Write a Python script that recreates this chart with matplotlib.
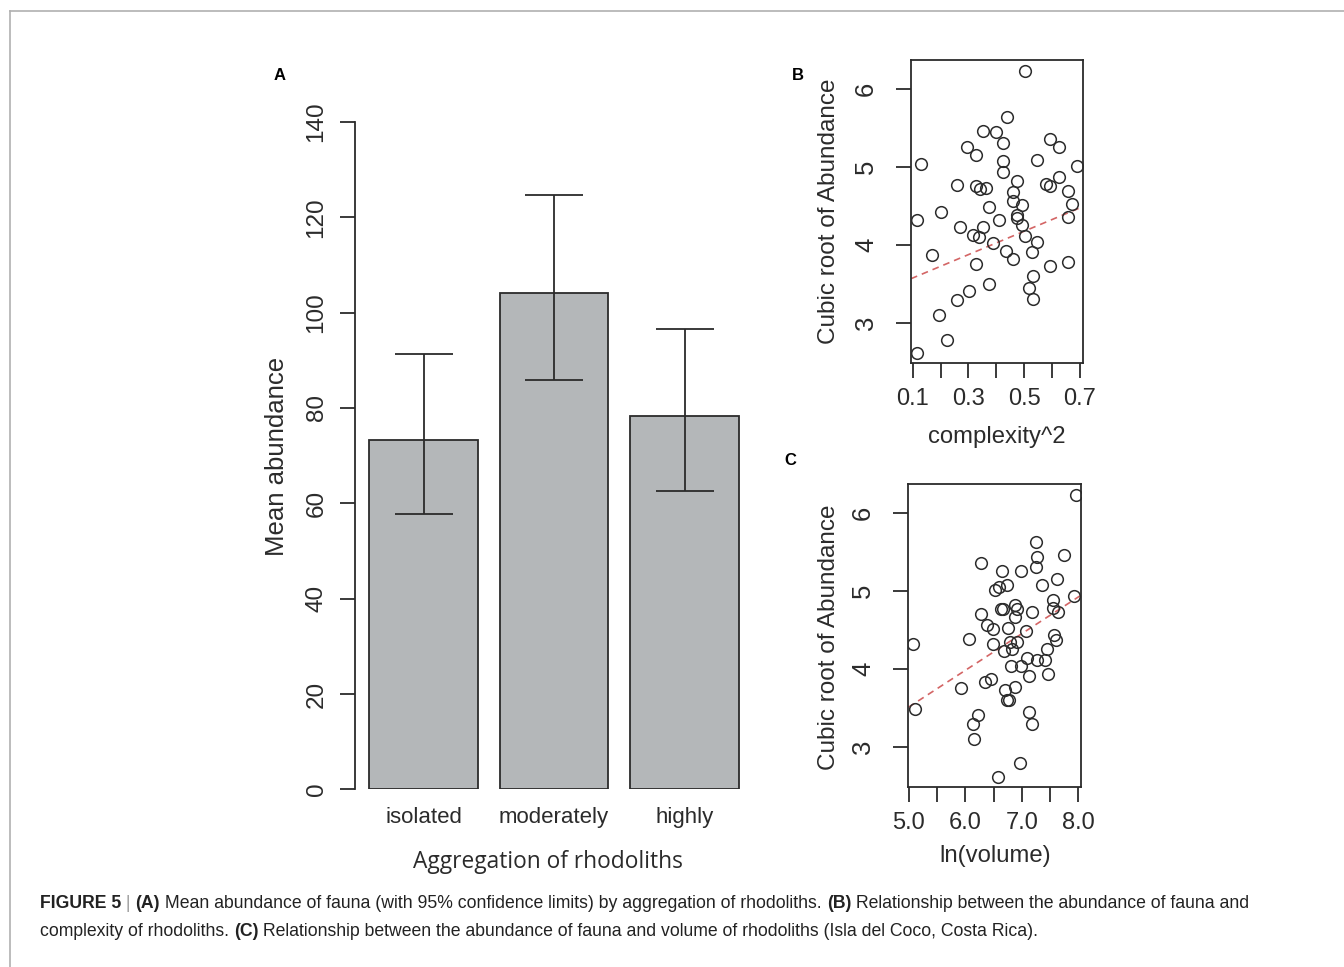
import numpy as np
import matplotlib
matplotlib.use("Agg")
import matplotlib.pyplot as plt
from matplotlib.lines import Line2D

plt.rcParams['font.family'] = ['Liberation Sans', 'DejaVu Sans']

W, H = 1344, 967

# panel A: mean abundance with 95% CI
groups = ["isolated", "moderately", "highly"]
mean_abund = [73.3, 104.2, 78.3]
ci_low = [57.8, 85.9, 62.6]
ci_high = [91.3, 124.6, 96.6]

# panel B: complexity^2 vs cubic root of abundance
complexity2 = [0.503, 0.437, 0.351, 0.399, 0.423, 0.294, 0.327, 0.592, 0.625, 0.130,
               0.423, 0.545, 0.423, 0.690, 0.260, 0.327, 0.341, 0.363, 0.473, 0.578,
               0.594, 0.625, 0.656, 0.461, 0.461, 0.491, 0.373, 0.672, 0.656, 0.202,
               0.117, 0.473, 0.473, 0.491, 0.410, 0.270, 0.351, 0.315, 0.339, 0.503,
               0.387, 0.545, 0.434, 0.461, 0.529, 0.168, 0.327, 0.592, 0.656, 0.373,
               0.530, 0.303, 0.260, 0.518, 0.530, 0.194, 0.222, 0.117]
abund_b = [6.24, 5.64, 5.47, 5.45, 5.31, 5.26, 5.16, 5.36, 5.26, 5.04,
           5.08, 5.09, 4.94, 5.02, 4.77, 4.76, 4.72, 4.73, 4.82, 4.78,
           4.76, 4.87, 4.70, 4.68, 4.57, 4.52, 4.49, 4.53, 4.36, 4.43,
           4.32, 4.39, 4.35, 4.26, 4.32, 4.24, 4.23, 4.13, 4.11, 4.12,
           4.03, 4.04, 3.93, 3.82, 3.91, 3.87, 3.76, 3.74, 3.78, 3.50,
           3.61, 3.41, 3.30, 3.45, 3.31, 3.11, 2.79, 2.62]
fit_b = [3.43, 1.50]  # intercept, slope

# panel C: ln(volume) vs cubic root of abundance
ln_volume = [7.96, 7.25, 7.27, 7.75, 6.28, 6.64, 6.98, 7.25, 7.62, 6.53,
             6.59, 6.74, 7.36, 7.93, 7.55, 7.55, 7.64, 6.63, 6.66, 6.87,
             6.91, 6.87, 7.17, 6.27, 6.39, 6.49, 6.76, 7.07, 5.08, 6.06,
             6.49, 6.79, 6.92, 7.57, 7.60, 7.45, 6.69, 6.83, 7.09, 7.26,
             7.41, 6.80, 6.98, 7.47, 7.13, 5.93, 6.34, 6.46, 6.70, 6.87,
             6.73, 6.78, 5.11, 6.22, 6.14, 7.13, 7.17, 6.16, 6.97, 6.57]
abund_c = [6.24, 5.63, 5.44, 5.47, 5.36, 5.26, 5.26, 5.31, 5.15, 5.02,
           5.05, 5.08, 5.08, 4.94, 4.88, 4.78, 4.73, 4.77, 4.77, 4.82,
           4.77, 4.67, 4.73, 4.70, 4.56, 4.51, 4.53, 4.49, 4.32, 4.39,
           4.32, 4.34, 4.35, 4.44, 4.37, 4.25, 4.23, 4.26, 4.14, 4.11,
           4.11, 4.04, 4.04, 3.93, 3.91, 3.75, 3.83, 3.87, 3.73, 3.77,
           3.60, 3.60, 3.49, 3.41, 3.29, 3.44, 3.29, 3.10, 2.79, 2.61]
fit_c = [1.15, 0.472]

ink = '#2b2b2b'


def box(left, top, right, bottom):
    return [left / W, 1 - bottom / H, (right - left) / W, (bottom - top) / H]


fig = plt.figure(figsize=(W / 100, H / 100), dpi=100)

# outer frame (top and left only)
fig.add_artist(Line2D([9.5 / W, 9.5 / W], [0, 1 - 10.5 / H], color='#b0b0b0', lw=1.2))
fig.add_artist(Line2D([9.5 / W, 1], [1 - 10.5 / H, 1 - 10.5 / H], color='#b0b0b0', lw=1.2))

# ---- panel A
axA = fig.add_axes(box(355, 122, 760.7, 789.3))
pos = 0.7 + 1.2 * np.arange(len(groups))
mean_arr = np.array(mean_abund)
axA.bar(pos, mean_arr, width=1.0, color='#b4b7b9', edgecolor=ink, linewidth=1.3)
axA.errorbar(pos, mean_arr, yerr=[mean_arr - np.array(ci_low), np.array(ci_high) - mean_arr],
             fmt='none', ecolor=ink, elinewidth=1.3, capsize=21, capthick=1.3)
axA.set_xlim(0.07, 3.8)
axA.set_ylim(0, 140)
for s in ['top', 'right', 'bottom']:
    axA.spines[s].set_visible(False)
axA.spines['left'].set_bounds(0, 140)
axA.spines['left'].set_color(ink)
axA.spines['left'].set_linewidth(1.3)
axA.set_yticks(np.arange(0, 141, 20))
axA.tick_params(axis='y', length=10.8, width=1.3, color=ink, labelsize=17.5, pad=9,
                labelrotation=90, labelcolor=ink)
for lab in axA.get_yticklabels():
    lab.set_va('center')
axA.set_xticks(pos)
axA.set_xticklabels(groups)
axA.tick_params(axis='x', length=0, labelsize=16, pad=13, labelcolor=ink)
fig.text(277 / W, 1 - 456 / H, "Mean abundance", rotation=90, ha='center', va='center',
         fontsize=18.5, color=ink)
fig.text(548 / W, 1 - 862 / H, "Aggregation of rhodoliths", ha='center', va='center',
         fontsize=16.4, color=ink, family=['Open Sans', 'DejaVu Sans'])


def scatter_panel(rect, xs, ys, fit, xlim, ylim, xticks, xlabels):
    ax = fig.add_axes(rect)
    ax.plot(xs, ys, 'o', mfc='none', mec=ink, ms=8.4, mew=1.1, zorder=3)
    xx = np.array(xlim)
    ax.plot(xx, fit[0] + fit[1] * xx, color='#cc4a4a', lw=1.2, ls=(0, (4, 3)), alpha=0.85)
    ax.set_xlim(*xlim)
    ax.set_ylim(*ylim)
    for s in ax.spines.values():
        s.set_color(ink)
        s.set_linewidth(1.3)
    ax.set_xticks(xticks)
    ax.set_xticklabels(xlabels)
    ax.set_yticks([3, 4, 5, 6])
    ax.tick_params(axis='both', length=10.8, width=1.3, color=ink, labelcolor=ink)
    ax.tick_params(axis='x', pad=7, labelsize=17)
    ax.tick_params(axis='y', pad=13, labelsize=18.5, labelrotation=90)
    for lab in ax.get_yticklabels():
        lab.set_va('center')
    return ax


axB = scatter_panel(box(911, 60, 1083.3, 363), complexity2, abund_b, fit_b,
                    (0.094, 0.712), (2.49, 6.376),
                    [0.1, 0.2, 0.3, 0.4, 0.5, 0.6, 0.7],
                    ['0.1', '', '0.3', '', '0.5', '', '0.7'])
axC = scatter_panel(box(908.3, 484, 1081, 787), ln_volume, abund_c, fit_c,
                    (4.991, 8.045), (2.482, 6.377),
                    [5.0, 5.5, 6.0, 6.5, 7.0, 7.5, 8.0],
                    ['5.0', '', '6.0', '', '7.0', '', '8.0'])

fig.text(829 / W, 1 - 211.5 / H, "Cubic root of Abundance", rotation=90, ha='center',
         va='center', fontsize=17.5, color=ink)
fig.text(829 / W, 1 - 637 / H, "Cubic root of Abundance", rotation=90, ha='center',
         va='center', fontsize=17.5, color=ink)
fig.text(997 / W, 1 - 437 / H, "complexity^2", ha='center', va='center', fontsize=17.2, color=ink)
fig.text(994.7 / W, 1 - 856 / H, "ln(volume)", ha='center', va='center', fontsize=17.2, color=ink)

# panel letters
for letter, px, py in [("A", 280, 76), ("B", 798, 75), ("C", 790, 461)]:
    fig.text(px / W, 1 - py / H, letter, ha='center', va='center', fontsize=12,
             fontweight='bold', color='black')

# caption with bold runs
renderer = fig.canvas.get_renderer()


def caption_line(x0, y0, parts):
    x = x0
    for txt, bold, col in parts:
        t = fig.text(x / W, 1 - y0 / H, txt, ha='left', va='center', fontsize=12.7,
                     fontweight='bold' if bold else 'normal', color=col)
        bb = t.get_window_extent(renderer=renderer)
        x += bb.width


cap_col = '#222222'
caption_line(40, 904, [("FIGURE 5", True, cap_col), (" | ", False, '#999999'), ("(A)", True, cap_col),
                       (" Mean abundance of fauna (with 95% confidence limits) by aggregation of rhodoliths. ",
                        False, cap_col),
                       ("(B)", True, cap_col),
                       (" Relationship between the abundance of fauna and", False, cap_col)])
caption_line(40, 931, [("complexity of rhodoliths. ", False, cap_col), ("(C)", True, cap_col),
                       (" Relationship between the abundance of fauna and volume of rhodoliths "
                        "(Isla del Coco, Costa Rica).", False, cap_col)])

fig.savefig("out.png", dpi=100)
